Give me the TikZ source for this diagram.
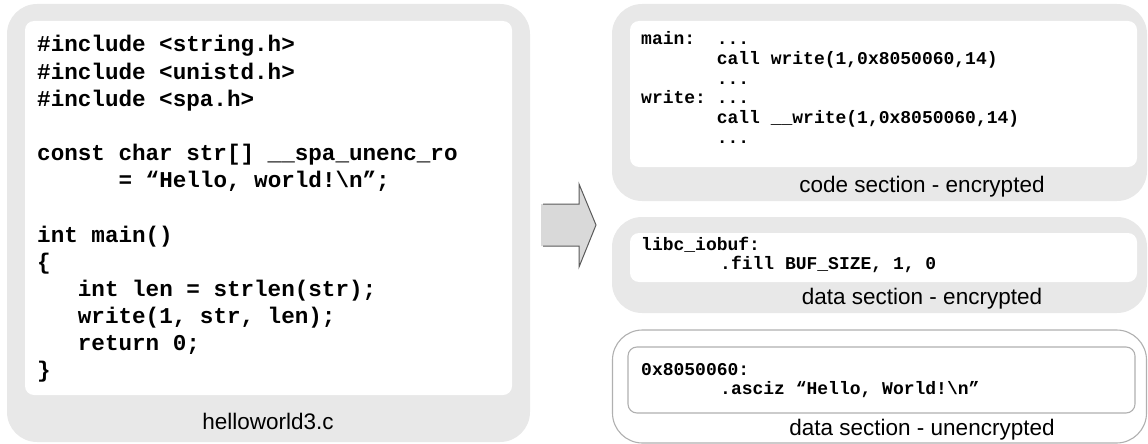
\documentclass[tikz,border=0pt]{standalone}
\usepackage{fontspec}
\setmainfont{Liberation Sans}
\newfontfamily\codefont[WordSpace={1,0,0},PunctuationSpace=WordSpace]{Liberation Mono}
\definecolor{panelgray}{RGB}{232,232,232}
\definecolor{linegray}{RGB}{176,176,176}
\definecolor{arrowfill}{RGB}{217,217,217}
\definecolor{arrowline}{RGB}{90,90,90}
\tikzset{
  panel/.style={fill=panelgray, draw=none, rounded corners=30pt},
  openpanel/.style={fill=white, draw=linegray, line width=1.1pt, rounded corners=30pt},
  innerbox/.style={fill=white, draw=none, rounded corners=9pt},
  openinner/.style={fill=white, draw=linegray, line width=1.1pt, rounded corners=9pt},
  bigcode/.style={anchor=base west, inner sep=0pt,
    font=\codefont\bfseries\fontsize{22.6}{27}\selectfont},
  smallcode/.style={anchor=base west, inner sep=0pt,
    font=\codefont\bfseries\fontsize{18}{20}\selectfont},
  caption/.style={anchor=base, inner sep=0pt,
    font=\fontsize{22.5}{27}\selectfont},
}
\begin{document}
\begin{tikzpicture}[x=1pt, y=-1pt]
\useasboundingbox (0,0) rectangle (1148,444);

% ---- source file ----
\draw[panel] (7,4) rectangle (530,442);
\draw[innerbox] (25,21) rectangle (512,395);
\node[bigcode] (s1)  at (37,52)    {\#include <string.h>};
\node[bigcode] (s2)  at (37,79)    {\#include <unistd.h>};
\node[bigcode] (s3)  at (37,106)   {\#include <spa.h>};
\node[bigcode] (s4)  at (37,160)   {const char str[] \_\_spa\_unenc\_ro};
\node[bigcode] (s5)  at (118.4,187) {= “Hello, world!\textbackslash n”;};
\node[bigcode] (s6)  at (37,242)   {int main()};
\node[bigcode] (s7)  at (37,269)   {\{};
\node[bigcode] (s8)  at (77.7,296) {int len = strlen(str);};
\node[bigcode] (s9)  at (77.7,323) {write(1, str, len);};
\node[bigcode] (s10) at (77.7,350) {return 0;};
\node[bigcode] (s11) at (37,377)   {\}};
\node[caption] (srcname) at (268,429) {helloworld3.c};

% ---- block arrow ----
\fill[arrowfill] (541,204) -- (579,204) -- (579,184) -- (596,225)
  -- (579,267) -- (579,246) -- (541,246) -- cycle;
\draw[arrowline, line width=1pt, line join=miter] (543,204) -- (579,204) -- (579,184)
  -- (596,225) -- (579,267) -- (579,246) -- (543,246);

% ---- code section ----
\draw[panel] (612,4) rectangle (1147,201);
\draw[innerbox] (630,21) rectangle (1137,167);
\node[smallcode] (c1l) at (641,45)    {main:};
\node[smallcode] (c1)  at (716.6,45)  {...};
\node[smallcode] (c2)  at (716.6,64.6) {call write(1,0x8050060,14)};
\node[smallcode] (c3)  at (716.6,84.2) {...};
\node[smallcode] (c4l) at (641,103.8) {write:};
\node[smallcode] (c4)  at (716.6,103.8) {...};
\node[smallcode] (c5)  at (716.6,123.4) {call \_\_write(1,0x8050060,14)};
\node[smallcode] (c6)  at (716.6,143) {...};
\node[caption] (codename) at (922,192) {code section - encrypted};

% ---- encrypted data section ----
\draw[panel] (612,217) rectangle (1147,313);
\draw[innerbox] (630,233) rectangle (1137,282);
\node[smallcode] (d1) at (641,250) {libc\_iobuf:};
\node[smallcode] (d2) at (720,269) {.fill BUF\_SIZE, 1, 0};
\node[caption] (dataname) at (922,304) {data section - encrypted};

% ---- unencrypted data section ----
\draw[openpanel] (612.5,330) rectangle (1146.5,443);
\draw[openinner] (628,347) rectangle (1135,413);
\node[smallcode] (u1) at (641,375) {0x8050060:};
\node[smallcode] (u2) at (720,394) {.asciz “Hello, World!\textbackslash n”};
\node[caption] (plainname) at (922,435) {data section - unencrypted};
\end{tikzpicture}
\end{document}
